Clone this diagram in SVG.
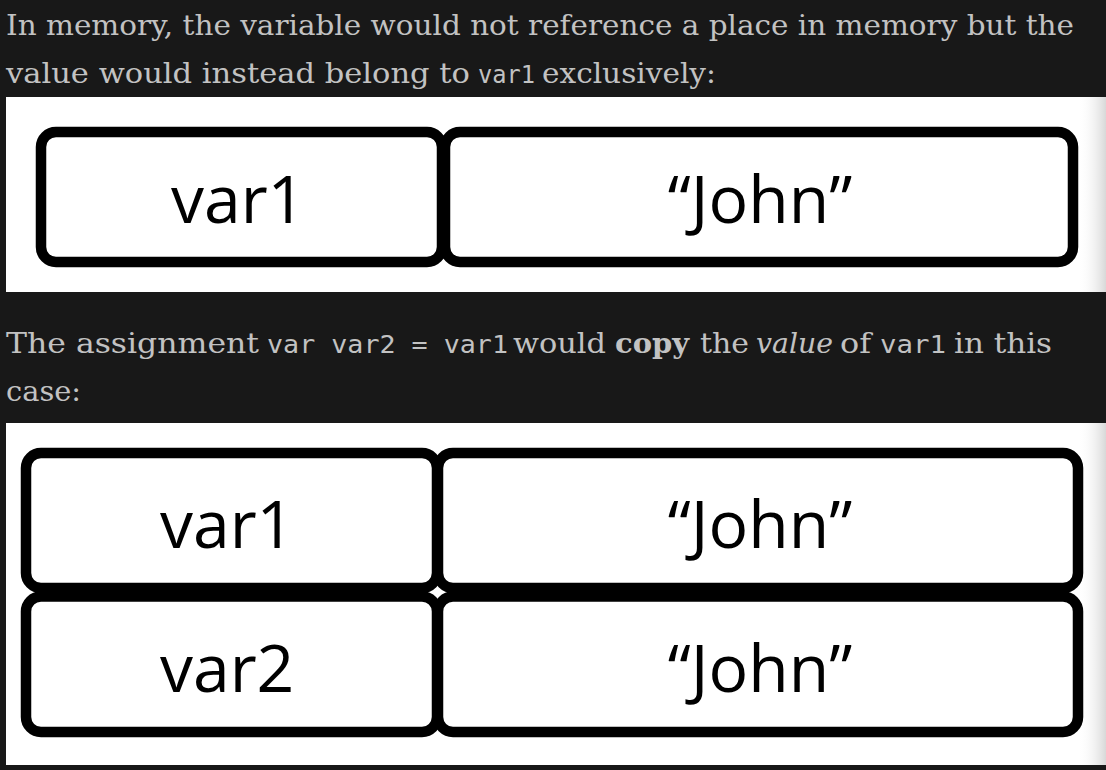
<svg xmlns="http://www.w3.org/2000/svg" width="1106" height="770" viewBox="0 0 1106 770">
  <defs>
    <linearGradient id="edgeShade" x1="0" y1="0" x2="1" y2="0">
      <stop offset="0" stop-color="#ffffff" stop-opacity="0"/>
      <stop offset="1" stop-color="#d8d8d8" stop-opacity="1"/>
    </linearGradient>
    <style>
      .prose { font-family: "DejaVu Serif", "Liberation Serif", serif; font-size: 28px; fill: #c2c2c2; }
      .code { font-family: "DejaVu Sans Mono", "Liberation Mono", monospace; font-size: 25px; fill: #c2c2c2; white-space: pre; }
      .bold { font-weight: bold; }
      .ital { font-style: italic; }
      .panel { fill: #ffffff; }
      .cell { fill: #ffffff; stroke: #000000; stroke-width: 10.5; }
      .label { font-family: "Open Sans", "Noto Sans", sans-serif; font-size: 66px; fill: #000000; }
    </style>
  </defs>

  <!-- page background -->
  <rect x="0" y="0" width="1106" height="770" fill="#181818"/>

  <!-- paragraph 1 -->
  <text class="prose" x="6" y="35" textLength="1068" lengthAdjust="spacingAndGlyphs">In memory, the variable would not reference a place in memory but the</text>
  <text class="prose" x="6" y="83" textLength="464" lengthAdjust="spacingAndGlyphs">value would instead belong to</text>
  <text class="code" x="478" y="83" textLength="57" lengthAdjust="spacingAndGlyphs">var1</text>
  <text class="prose" x="542" y="83" textLength="174" lengthAdjust="spacingAndGlyphs">exclusively:</text>

  <!-- memory layout: single variable -->
  <rect class="panel" x="6" y="97" width="1100" height="195"/>
  <rect x="1078" y="97" width="28" height="195" fill="url(#edgeShade)"/>
  <g id="p1-var1">
    <rect class="cell" x="41" y="132" width="401" height="130" rx="15"/>
    <text class="label" x="171" y="223">var1</text>
  </g>
  <g id="p1-value1">
    <rect class="cell" x="445" y="132" width="628" height="130" rx="15"/>
    <text class="label" x="760" y="223" text-anchor="middle">“John”</text>
  </g>

  <!-- paragraph 2 -->
  <text class="prose" x="6" y="353" textLength="253" lengthAdjust="spacingAndGlyphs">The assignment</text>
  <text class="code" x="267" y="353" textLength="241" lengthAdjust="spacingAndGlyphs">var var2 = var1</text>
  <text class="prose" x="513" y="353" textLength="93" lengthAdjust="spacingAndGlyphs">would</text>
  <text class="prose bold" x="615" y="353" textLength="74" lengthAdjust="spacingAndGlyphs">copy</text>
  <text class="prose" x="700" y="353" textLength="49" lengthAdjust="spacingAndGlyphs">the</text>
  <text class="prose ital" x="756" y="353" textLength="77" lengthAdjust="spacingAndGlyphs">value</text>
  <text class="prose" x="840" y="353" textLength="31" lengthAdjust="spacingAndGlyphs">of</text>
  <text class="code" x="880" y="353" textLength="66" lengthAdjust="spacingAndGlyphs">var1</text>
  <text class="prose" x="954" y="353" textLength="98" lengthAdjust="spacingAndGlyphs">in this</text>
  <text class="prose" x="6" y="401" textLength="75" lengthAdjust="spacingAndGlyphs">case:</text>

  <!-- memory layout: two variables holding copies -->
  <rect class="panel" x="6" y="423" width="1100" height="342"/>
  <rect x="1078" y="423" width="28" height="342" fill="url(#edgeShade)"/>
  <g id="p2-var1">
    <rect class="cell" x="26" y="453" width="411" height="135" rx="15"/>
    <text class="label" x="160" y="548">var1</text>
  </g>
  <g id="p2-value1">
    <rect class="cell" x="438" y="453" width="640" height="135" rx="15"/>
    <text class="label" x="760" y="548" text-anchor="middle">“John”</text>
  </g>
  <g id="p2-var2">
    <rect class="cell" x="26" y="596.5" width="411" height="135.5" rx="15"/>
    <text class="label" x="160" y="692">var2</text>
  </g>
  <g id="p2-value2">
    <rect class="cell" x="438" y="596.5" width="640" height="135.5" rx="15"/>
    <text class="label" x="760" y="692" text-anchor="middle">“John”</text>
  </g>
</svg>
